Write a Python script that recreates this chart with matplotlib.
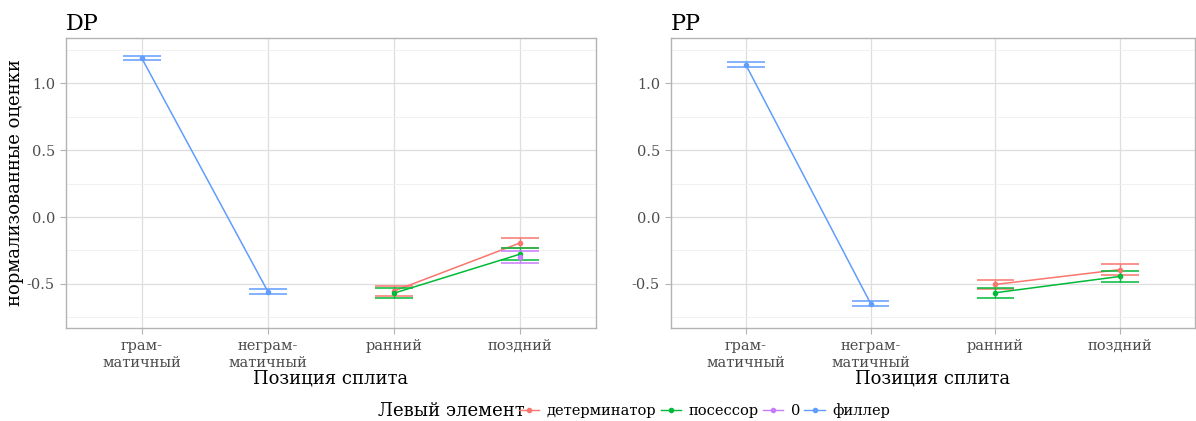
import numpy as np
import matplotlib
matplotlib.use("Agg")
import matplotlib.pyplot as plt
from matplotlib.lines import Line2D

# ---- data ----
positions = ["грам-\nматичный", "неграм-\nматичный", "ранний", "поздний"]
groups = ["детерминатор", "посессор", "0", "филлер"]
colors = {"детерминатор": "#F8766D", "посессор": "#00BA38", "0": "#C77CFF", "филлер": "#619CFF"}

# mean values per panel/group (NaN = absent), index follows positions
dp_det = [np.nan, np.nan, -0.553, -0.193]
dp_pos = [np.nan, np.nan, -0.569, -0.277]
dp_zero = [np.nan, np.nan, np.nan, -0.297]
dp_fil = [1.190, -0.558, np.nan, np.nan]
dp_det_se = [np.nan, np.nan, 0.038, 0.040]
dp_pos_se = [np.nan, np.nan, 0.037, 0.042]
dp_zero_se = [np.nan, np.nan, np.nan, 0.043]
dp_fil_se = [0.015, 0.021, np.nan, np.nan]

pp_det = [np.nan, np.nan, -0.504, -0.393]
pp_pos = [np.nan, np.nan, -0.566, -0.444]
pp_zero = [np.nan, np.nan, np.nan, np.nan]
pp_fil = [1.139, -0.647, np.nan, np.nan]
pp_det_se = [np.nan, np.nan, 0.036, 0.040]
pp_pos_se = [np.nan, np.nan, 0.039, 0.040]
pp_zero_se = [np.nan, np.nan, np.nan, np.nan]
pp_fil_se = [0.019, 0.021, np.nan, np.nan]

panels = {
    "DP": ([dp_det, dp_pos, dp_zero, dp_fil], [dp_det_se, dp_pos_se, dp_zero_se, dp_fil_se]),
    "PP": ([pp_det, pp_pos, pp_zero, pp_fil], [pp_det_se, pp_pos_se, pp_zero_se, pp_fil_se]),
}

FONT = "DejaVu Serif"
plt.rcParams["font.family"] = FONT

W, H = 1196, 421
fig = plt.figure(figsize=(W / 100, H / 100), dpi=100)

def px_axes(l, t, r, b):
    return fig.add_axes([l / W, 1 - b / H, (r - l) / W, (b - t) / H])

ax_boxes = {"DP": (66, 38, 596, 328), "PP": (671, 38, 1195, 328)}
x = np.arange(1, 5)

for pname, (vals, ses) in panels.items():
    ax = px_axes(*ax_boxes[pname])
    ax.set_facecolor("white")
    for g, v, s in zip(groups, vals, ses):
        v = np.array(v, float)
        s = np.array(s, float)
        c = colors[g]
        m = ~np.isnan(v)
        if m.sum() == 0:
            continue
        ax.plot(x[m], v[m], color=c, lw=1.1, zorder=3)
        ax.errorbar(x[m], v[m], yerr=s[m], fmt="none", ecolor=c, elinewidth=1.0,
                    capsize=0, zorder=3)
        for xi, vi, si in zip(x[m], v[m], s[m]):
            ax.hlines([vi - si, vi + si], xi - 0.15, xi + 0.15, color=c, lw=1.1, zorder=3)
        ax.scatter(x[m], v[m], color=c, s=16, zorder=4, linewidths=0)
    ax.set_xlim(0.4, 4.6)
    ax.set_ylim(-0.83, 1.34)
    ax.set_xticks(x)
    ax.set_xticklabels(positions, fontsize=10.5, color="#4D4D4D", linespacing=1.25)
    ax.set_yticks([-0.5, 0.0, 0.5, 1.0])
    ax.set_yticklabels(["-0.5", "0.0", "0.5", "1.0"], fontsize=10.5, color="#4D4D4D")
    ax.set_yticks([-0.75, -0.25, 0.25, 0.75, 1.25], minor=True)
    ax.grid(True, which="major", color="#DEDEDE", lw=0.9, zorder=0)
    ax.grid(True, which="minor", axis="y", color="#EFEFEF", lw=0.6, zorder=0)
    ax.set_axisbelow(True)
    for sp in ax.spines.values():
        sp.set_color("#B3B3B3")
        sp.set_linewidth(1.0)
    ax.tick_params(axis="both", which="major", color="#B3B3B3", length=4, width=0.8, pad=4)
    ax.tick_params(axis="y", which="minor", length=0)
    ax.set_xlabel("Позиция сплита", fontsize=13, color="black", labelpad=0)
    ax.set_title(pname, loc="left", fontsize=16, pad=6)
    if pname == "DP":
        ax.set_ylabel("нормализованные оценки", fontsize=13, labelpad=2)

# legend
handles = [Line2D([0], [0], color=colors[g], lw=1.0, marker="o", markersize=3) for g in groups]
fig.text(378 / W, 1 - 411 / H, "Левый элемент", fontsize=13, ha="left", va="center")
fig.legend(handles, groups, loc="center left", bbox_to_anchor=(519 / W, 1 - 411 / H),
           ncol=4, frameon=False, fontsize=10.5, handlelength=1.4, handletextpad=0.5,
           columnspacing=0.3, borderaxespad=0, borderpad=0)

fig.savefig("out.png", dpi=100, facecolor="white")
